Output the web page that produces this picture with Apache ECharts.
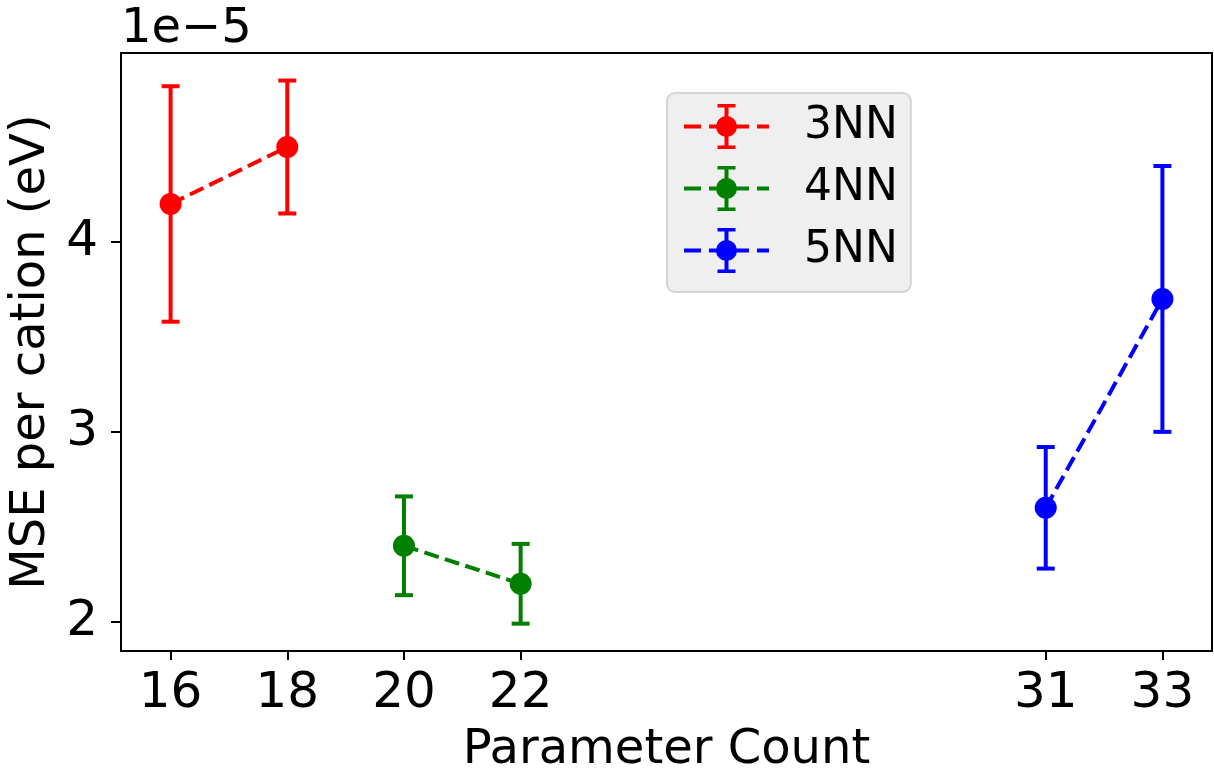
<!DOCTYPE html>
<html>
<head>
<meta charset="utf-8">
<script src="https://cdn.jsdelivr.net/npm/echarts@6/dist/echarts.min.js"></script>
<style>html,body{margin:0;padding:0;background:#fff;}#chart{width:1214px;height:772px;}</style>
</head>
<body>
<div id="chart"></div>
<script>
// Values in units of 1e-5 eV (offset label "1e−5")
const seriesNames = ['3NN', '4NN', '5NN'];
const seriesColors = ['#ff0000', '#008000', '#0000ff'];
const paramCounts3NN = [16, 18];
const mse3NN = [4.2, 4.5];
const err3NN = [0.62, 0.35];
const paramCounts4NN = [20, 22];
const mse4NN = [2.4, 2.2];
const err4NN = [0.26, 0.21];
const paramCounts5NN = [31, 33];
const mse5NN = [2.6, 3.7];
const err5NN = [0.32, 0.70];
const xTicks = [16, 18, 20, 22, 31, 33];
const yTicks = [2, 3, 4];
const offsetText = '1e\u22125';
const xLabel = 'Parameter Count';
const yLabel = 'MSE per cation (eV)';

const groups = [
  {x: paramCounts3NN, y: mse3NN, e: err3NN},
  {x: paramCounts4NN, y: mse4NN, e: err4NN},
  {x: paramCounts5NN, y: mse5NN, e: err5NN}
];

const FONT = 'DejaVu Sans';
const legendIcon = 'path://M0 20.5H17V24.5H0Z M25 20.5H42V24.5H25Z M50 20.5H65V24.5H50Z M73 20.5H85V24.5H73Z ' +
  'M40.5 0H44.5V45H40.5Z M33.5 0H51.5V3.5H33.5Z M33.5 41.5H51.5V45H33.5Z ' +
  'M32 22.5A10.5 10.5 0 1 1 53 22.5A10.5 10.5 0 1 1 32 22.5Z';

const series = [];
groups.forEach((g, i) => {
  const color = seriesColors[i];
  series.push({
    name: seriesNames[i] + ' err',
    type: 'custom',
    z: 2,
    silent: true,
    data: g.x.map((xv, k) => [xv, g.y[k] - g.e[k], g.y[k] + g.e[k]]),
    renderItem: function (params, api) {
      const xv = api.value(0);
      const top = api.coord([xv, api.value(2)]);
      const bot = api.coord([xv, api.value(1)]);
      const cw = 9;
      const st = {stroke: color, lineWidth: 4};
      return {
        type: 'group',
        children: [
          {type: 'line', shape: {x1: top[0], y1: top[1], x2: bot[0], y2: bot[1]}, style: st},
          {type: 'line', shape: {x1: top[0] - cw, y1: top[1], x2: top[0] + cw, y2: top[1]}, style: st},
          {type: 'line', shape: {x1: bot[0] - cw, y1: bot[1], x2: bot[0] + cw, y2: bot[1]}, style: st}
        ]
      };
    }
  });
  series.push({
    name: seriesNames[i],
    type: 'line',
    z: 3,
    data: g.x.map((xv, k) => [xv, g.y[k]]),
    symbol: 'circle',
    symbolSize: 22,
    itemStyle: {color: color},
    lineStyle: {color: color, width: 4, type: [15, 6.5]},
    emphasis: {disabled: true},
    animation: false
  });
});

const chart = echarts.init(document.getElementById('chart'), null, {renderer: 'canvas'});
chart.setOption({
  animation: false,
  backgroundColor: '#ffffff',
  textStyle: {fontFamily: FONT},
  title: {
    text: offsetText,
    left: 121, top: 6, padding: 0,
    textStyle: {fontFamily: FONT, fontSize: 48, fontWeight: 'normal', color: '#000'}
  },
  grid: {left: 121, right: 2, top: 53, bottom: 121, containLabel: false, outerBoundsMode: 'none',
    show: true, borderColor: '#000', borderWidth: 2, backgroundColor: 'transparent'},
  legend: {
    data: seriesNames.map(n => ({name: n, icon: legendIcon})),
    orient: 'vertical',
    left: 667, top: 93,
    itemWidth: 85, itemHeight: 45, itemGap: 17,
    padding: [11, 13, 19, 17],
    backgroundColor: '#efefef',
    borderColor: '#d4d4d4',
    borderWidth: 2,
    borderRadius: 8,
    itemStyle: {borderWidth: 0},
    selectedMode: false,
    textStyle: {fontFamily: FONT, fontSize: 44, color: '#000', padding: [0, 0, 0, 30]}
  },
  xAxis: {
    type: 'value',
    min: 15.15, max: 33.85,
    name: xLabel,
    nameLocation: 'middle',
    nameGap: 76,
    nameTextStyle: {fontFamily: FONT, fontSize: 48, color: '#000'},
    axisLine: {show: true, onZero: false, lineStyle: {color: '#000', width: 2}},
    axisTick: {show: true, length: 9, customValues: xTicks, lineStyle: {color: '#000', width: 2}},
    axisLabel: {show: true, customValues: xTicks, margin: 18, fontFamily: FONT, fontSize: 50, color: '#000'},
    splitLine: {show: false}
  },
  yAxis: {
    type: 'value',
    min: 1.846, max: 4.995,
    name: yLabel,
    nameLocation: 'middle',
    nameRotate: 90,
    nameGap: 64,
    nameTextStyle: {fontFamily: FONT, fontSize: 48, color: '#000'},
    axisLine: {show: true, onZero: false, lineStyle: {color: '#000', width: 2}},
    axisTick: {show: true, length: 10, customValues: yTicks, lineStyle: {color: '#000', width: 2}},
    axisLabel: {show: true, customValues: yTicks, margin: 23, fontFamily: FONT, fontSize: 50, color: '#000'},
    splitLine: {show: false}
  },
  series: series
});
</script>
</body>
</html>
